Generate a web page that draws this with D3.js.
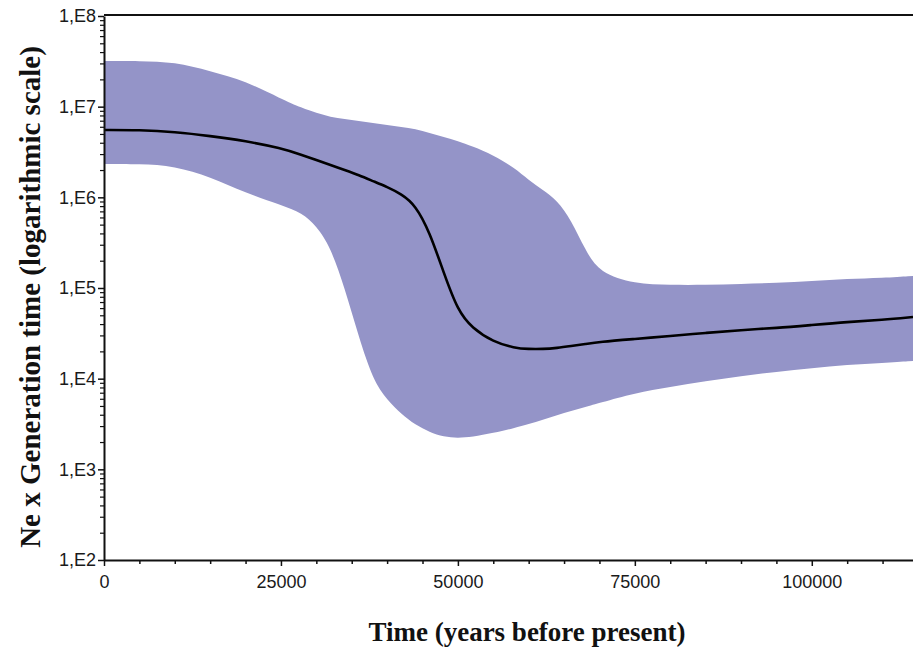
<!DOCTYPE html>
<html>
<head>
<meta charset="utf-8">
<script src="https://cdn.jsdelivr.net/npm/d3@7"></script>
<style>
  body { margin: 0; background: #fff; }
</style>
</head>
<body>
<div id="my_dataviz"></div>
<script>
// time points (years before present)
var times = [0, 5000, 10000, 15000, 20000, 25000, 28000, 30000, 32000, 34000, 36000, 38000,
  40000, 42000, 44000, 46000, 48000, 50000, 52000, 55000, 58000, 60000, 62000, 64000,
  66000, 68000, 70000, 75000, 80000, 85000, 90000, 95000, 100000, 105000, 110000, 114300];

// upper 95% HPD
var upper = [3.19e7, 3.19e7, 3.11e7, 2.47e7, 1.92e7, 1.22e7, 9.67e6, 8.51e6, 7.69e6, 7.31e6, 6.95e6, 6.61e6,
  6.28e6, 5.97e6, 5.67e6, 5.13e6, 4.63e6, 4.18e6, 3.68e6, 2.93e6, 2.11e6, 1.55e6, 1.21e6, 9.35e5,
  5.62e5, 2.62e5, 1.47e5, 1.11e5, 1.08e5, 1.08e5, 1.11e5, 1.14e5, 1.19e5, 1.26e5, 1.29e5, 1.36e5];

// median
var median = [5.53e6, 5.53e6, 5.26e6, 4.75e6, 4.18e6, 3.50e6, 2.93e6, 2.58e6, 2.27e6, 2.00e6, 1.76e6, 1.51e6,
  1.30e6, 1.09e6, 8.22e5, 4.15e5, 1.47e5, 5.58e4, 3.62e4, 2.54e4, 2.18e4, 2.12e4, 2.12e4, 2.18e4,
  2.29e4, 2.41e4, 2.54e4, 2.74e4, 2.96e4, 3.19e4, 3.44e4, 3.62e4, 3.91e4, 4.22e4, 4.44e4, 4.79e4];

// lower 95% HPD
var lower = [2.33e6, 2.33e6, 2.22e6, 1.68e6, 1.12e6, 8.24e5, 6.72e5, 4.83e5, 2.83e5, 1.00e5, 2.87e4, 9.66e3,
  5.82e3, 4.07e3, 3.08e3, 2.58e3, 2.27e3, 2.22e3, 2.27e3, 2.52e3, 2.86e3, 3.16e3, 3.50e3, 3.97e3,
  4.40e3, 4.87e3, 5.39e3, 6.95e3, 8.09e3, 9.42e3, 1.07e4, 1.19e4, 1.31e4, 1.42e4, 1.49e4, 1.57e4];

var xTicks = [0, 25000, 50000, 75000, 100000];
var yTicks = [1e2, 1e3, 1e4, 1e5, 1e6, 1e7, 1e8];

// set the dimensions and margins of the graph
var margin = {top: 16, right: 0, bottom: 88, left: 104},
    width = 913 - margin.left - margin.right,
    height = 648 - margin.top - margin.bottom;

var svg = d3.select("#my_dataviz")
  .append("svg")
    .attr("width", width + margin.left + margin.right)
    .attr("height", height + margin.top + margin.bottom)
  .append("g")
    .attr("transform", "translate(" + margin.left + "," + margin.top + ")");

var data = times.map(function(t, i) {
  return {t: t, hi: upper[i], med: median[i], lo: lower[i]};
});

var x = d3.scaleLinear()
  .domain([0, 114300])
  .range([0, width]);

var y = d3.scaleLog()
  .domain([1e2, 1e8])
  .range([height, 0]);

var curve = d3.curveBasis;

// band
svg.append("path")
  .datum(data)
  .attr("fill", "#9494c8")
  .attr("d", d3.area()
    .curve(curve)
    .x(function(d) { return x(d.t); })
    .y0(function(d) { return y(d.lo); })
    .y1(function(d) { return y(d.hi); }));

// median line
svg.append("path")
  .datum(data)
  .attr("fill", "none")
  .attr("stroke", "#000")
  .attr("stroke-width", 2.6)
  .attr("d", d3.line()
    .curve(curve)
    .x(function(d) { return x(d.t); })
    .y(function(d) { return y(d.med); }));

// minor ticks
var xMinor = d3.range(5000, 114300, 5000).filter(function(d) { return d % 25000 !== 0; });
var yMinor = [];
for (var e = 2; e < 8; e++) {
  for (var k = 2; k < 10; k++) yMinor.push(k * Math.pow(10, e));
}

svg.append("g")
  .attr("transform", "translate(0," + height + ")")
  .call(d3.axisBottom(x).tickValues(xMinor).tickSize(4).tickFormat(""))
  .call(function(g) { g.select(".domain").remove(); })
  .selectAll("line").attr("stroke", "#111").attr("stroke-width", 1.5);

svg.append("g")
  .call(d3.axisLeft(y).tickValues(yMinor).tickSize(4).tickFormat(""))
  .call(function(g) { g.select(".domain").remove(); })
  .selectAll("line").attr("stroke", "#111").attr("stroke-width", 1.2);

function styleAxis(g) {
  g.attr("font-family", "Arial, 'Liberation Sans', sans-serif").attr("font-size", 18);
  g.select(".domain").attr("stroke", "#111").attr("stroke-width", 2);
  g.selectAll(".tick line").attr("stroke", "#111").attr("stroke-width", 1.5);
  g.selectAll(".tick text")
    .style("font-size", "18px")
    .style("fill", "#1a1a1a");
}

// X axis
svg.append("g")
  .attr("transform", "translate(0," + height + ")")
  .call(d3.axisBottom(x).tickValues(xTicks).tickSize(6).tickSizeOuter(0).tickPadding(9).tickFormat(d3.format("d")))
  .call(styleAxis);

// Y axis
svg.append("g")
  .call(d3.axisLeft(y).tickValues(yTicks).tickSize(6).tickSizeOuter(0).tickPadding(2)
    .tickFormat(function(d) { return "1,E" + Math.round(Math.log10(d)); }))
  .call(styleAxis);

// top frame line
svg.append("line")
  .attr("x1", 0).attr("x2", width)
  .attr("y1", -1).attr("y2", -1)
  .attr("stroke", "#111")
  .attr("stroke-width", 2);

// X axis label
svg.append("text")
  .attr("text-anchor", "middle")
  .attr("x", 527 - margin.left)
  .attr("y", height + 81)
  .style("font-family", "'Liberation Serif', 'Times New Roman', serif")
  .style("font-weight", "bold")
  .style("font-size", "27px")
  .style("fill", "#111")
  .text("Time (years before present)");

// Y axis label
svg.append("text")
  .attr("text-anchor", "middle")
  .attr("transform", "rotate(-90)")
  .attr("x", -(297 - margin.top))
  .attr("y", -margin.left + 40)
  .style("font-family", "'Liberation Serif', 'Times New Roman', serif")
  .style("font-weight", "bold")
  .style("font-size", "29px")
  .style("fill", "#111")
  .text("Ne x Generation time (logarithmic scale)");
</script>
</body>
</html>
